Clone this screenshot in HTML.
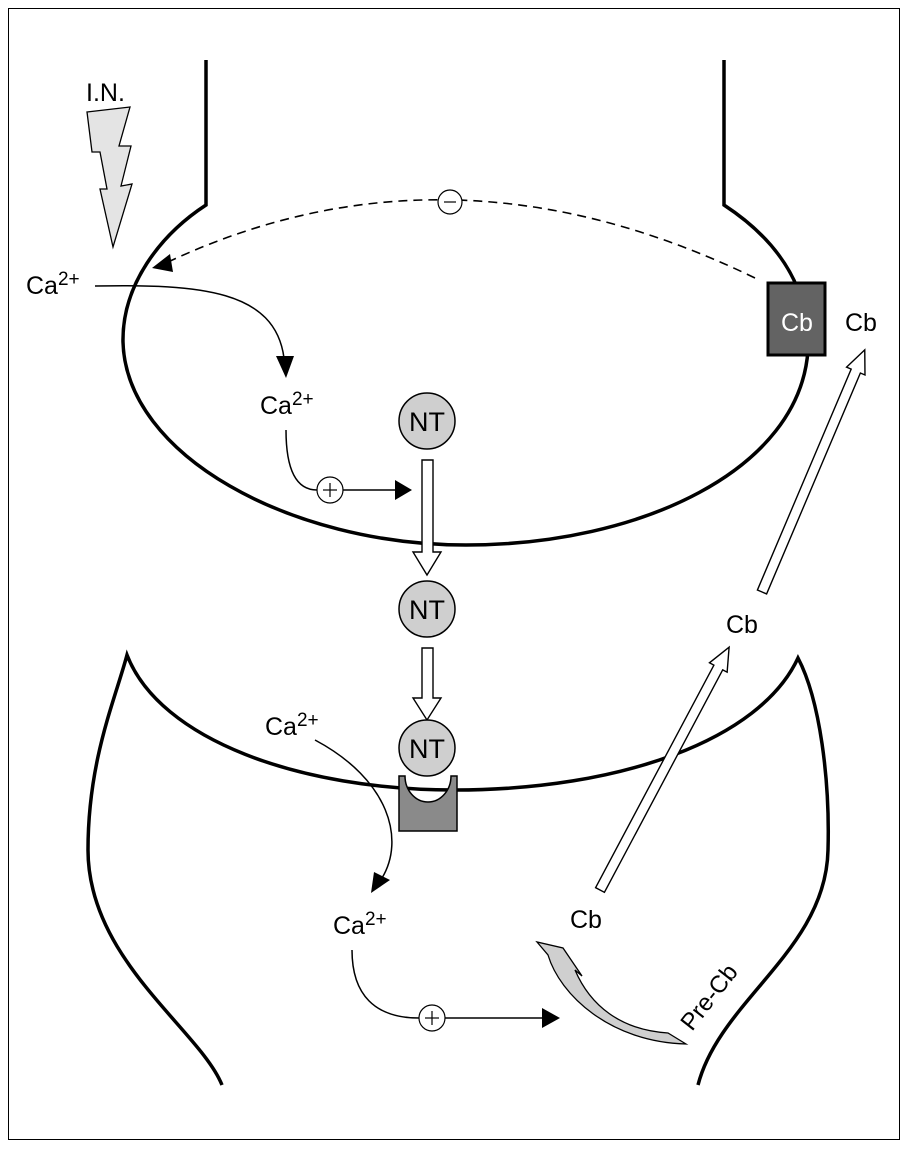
<!DOCTYPE html>
<html><head><meta charset="utf-8"><style>
html,body{margin:0;padding:0;background:#fff}
svg{display:block}
text{font-family:"Liberation Sans",Arial,sans-serif;fill:#000}
</style></head><body>
<svg width="909" height="1149" viewBox="0 0 909 1149" xmlns="http://www.w3.org/2000/svg">
<rect x="8.5" y="8.5" width="891" height="1131" fill="none" stroke="#000" stroke-width="1"/>

<path d="M206,60 V205 C160,235 122,285 123,342 C126,455 290,545 466,545 C640,545 800,470 808,350 C810,295 785,245 724,205 V60" fill="none" stroke="#000" stroke-width="3.5"/>

<path d="M222,1085 C200,1030 88,960 88,850 C88,760 115,700 127,655 C160,740 300,790 455,790 C620,790 760,740 798,658 C820,700 830,780 828,850 C826,950 720,1000 698,1085" fill="none" stroke="#000" stroke-width="3.5"/>

<polygon points="87,112 130,107 119,146 131,146 121,186 132,184 113,247 100,189 107,189 100,152 92,152" fill="#e4e4e4" stroke="#000" stroke-width="1.3"/>
<text x="86" y="101" font-size="25">I.N.</text>

<path d="M755,278 Q450,130 168,262" fill="none" stroke="#000" stroke-width="1.6" stroke-dasharray="9,6"/>
<polygon points="152,268 170,254 173,272" fill="#000"/>
<circle cx="450" cy="202" r="12" fill="#fff" stroke="#000" stroke-width="1.2"/>
<line x1="444" y1="202" x2="456" y2="202" stroke="#000" stroke-width="1.2"/>

<rect x="768" y="283" width="57" height="72" fill="#636363" stroke="#000" stroke-width="3"/>
<text x="781" y="331" font-size="25" style="fill:#fff">Cb</text>
<text x="845" y="331" font-size="25">Cb</text>

<text x="26" y="294" font-size="25">Ca<tspan font-size="19" dy="-9">2+</tspan></text>
<path d="M95,286 C200,284 275,290 284,358" fill="none" stroke="#000" stroke-width="1.5"/>
<polygon points="276,356 294,356 286,378" fill="#000"/>
<text x="260" y="414" font-size="25">Ca<tspan font-size="19" dy="-9">2+</tspan></text>
<path d="M286,430 C286,470 296,490 317,490" fill="none" stroke="#000" stroke-width="1.5"/>
<circle cx="330" cy="490" r="13" fill="#fff" stroke="#000" stroke-width="1.2"/>
<line x1="323" y1="490" x2="337" y2="490" stroke="#000" stroke-width="1.2"/>
<line x1="330" y1="483" x2="330" y2="497" stroke="#000" stroke-width="1.2"/>
<line x1="343" y1="490" x2="396" y2="490" stroke="#000" stroke-width="1.5"/>
<polygon points="395,480 412,490 395,500" fill="#000"/>

<circle cx="427" cy="421" r="28" fill="#cfcfcf" stroke="#000" stroke-width="1.5"/>
<text x="427" y="431" font-size="27" text-anchor="middle">NT</text>
<polygon points="422,460 433,460 433,552 441,552 427,575 413,552 422,552" fill="#fff" stroke="#000" stroke-width="1.4"/>
<circle cx="427" cy="609" r="28" fill="#cfcfcf" stroke="#000" stroke-width="1.5"/>
<text x="427" y="619" font-size="27" text-anchor="middle">NT</text>
<polygon points="422,648 433,648 433,698 441,698 427,720 413,698 422,698" fill="#fff" stroke="#000" stroke-width="1.4"/>
<circle cx="427" cy="748" r="28" fill="#cfcfcf" stroke="#000" stroke-width="1.5"/>
<text x="427" y="758" font-size="27" text-anchor="middle">NT</text>

<path d="M399,776 V831 H457 V776 H451 A23,26 0 0 1 405,776 Z" fill="#8a8a8a" stroke="#000" stroke-width="1.5"/>

<text x="265" y="735" font-size="25">Ca<tspan font-size="19" dy="-9">2+</tspan></text>
<path d="M315,740 C390,780 405,840 382,878" fill="none" stroke="#000" stroke-width="1.5"/>
<polygon points="374,872 390,880 371,893" fill="#000"/>
<text x="333" y="934" font-size="25">Ca<tspan font-size="19" dy="-9">2+</tspan></text>
<path d="M352,950 C352,995 375,1018 419,1018" fill="none" stroke="#000" stroke-width="1.5"/>
<circle cx="432" cy="1018" r="13" fill="#fff" stroke="#000" stroke-width="1.2"/>
<line x1="425" y1="1018" x2="439" y2="1018" stroke="#000" stroke-width="1.2"/>
<line x1="432" y1="1011" x2="432" y2="1025" stroke="#000" stroke-width="1.2"/>
<line x1="445" y1="1018" x2="543" y2="1018" stroke="#000" stroke-width="1.5"/>
<polygon points="542,1008 560,1018 542,1028" fill="#000"/>

<g transform="translate(600,890) rotate(-62)">
<polygon points="0,-5 252,-5 252,-10 275,0 252,10 252,5 0,5" fill="#fff" stroke="#000" stroke-width="1.4"/>
</g>
<g transform="translate(762,592) rotate(-67)">
<polygon points="0,-5 240,-5 240,-10 263,0 240,10 240,5 0,5" fill="#fff" stroke="#000" stroke-width="1.4"/>
</g>
<text x="726" y="633" font-size="25">Cb</text>
<text x="570" y="928" font-size="25">Cb</text>

<path d="M686,1044 L668,1033 C620,1030 590,1005 575,970 L582,976 L563,948 L537,942 L548,955 C560,995 610,1042 686,1044 Z" fill="#cfcfcf" stroke="#000" stroke-width="1.3"/>
<text x="0" y="0" font-size="24" transform="translate(692,1032) rotate(-52)">Pre-Cb</text>
</svg>
</body></html>
